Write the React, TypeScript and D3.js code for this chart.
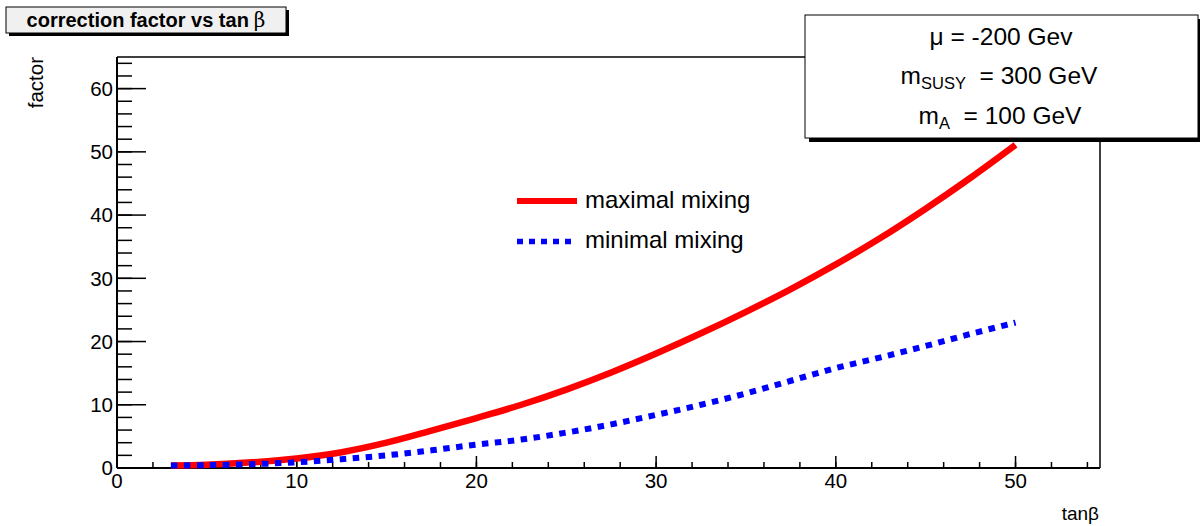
import React from "react";
import * as d3 from "d3";

// values
const tanBeta = [3, 5, 7.5, 10, 12.5, 15, 17.5, 20, 22.5, 25, 27.5, 30, 32.5, 35, 37.5, 40, 42.5, 45, 47.5, 50];
const maxMixing = [0.4, 0.5, 0.9, 1.5, 2.5, 4.0, 5.9, 7.9, 10.0, 12.4, 15.1, 18.1, 21.3, 24.7, 28.3, 32.2, 36.4, 41.0, 45.9, 51.1];
const minMixing = [0.4, 0.45, 0.6, 0.9, 1.4, 2.0, 2.8, 3.7, 4.5, 5.6, 6.9, 8.4, 10.0, 11.8, 13.8, 15.8, 17.5, 19.3, 21.2, 23.0];
const xMajor = [0, 10, 20, 30, 40, 50];
const yMajor = [0, 10, 20, 30, 40, 50, 60];

const W = 1200;
const H = 526;
const font = "'Liberation Sans', Arial, Helvetica, sans-serif";

const App = () => {
  const left = 117, right = 1100, top = 57, bottom = 468;
  const x = d3.scaleLinear().domain([0, 54.7]).range([left, right]);
  const y = d3.scaleLinear().domain([0, 65]).range([bottom, top]);

  const xMinor = d3.range(0, 54.7, 2);
  const yMinor = d3.range(0, 65.01, 2);

  const line = d3
    .line<number>()
    .x((d, i) => x(tanBeta[i]))
    .y(d => y(d))
    .curve(d3.curveCatmullRom);

  return (
    <svg width={W} height={H} style={{ position: "absolute", left: 0, top: 0 }} fontFamily={font}>
      <rect width={W} height={H} fill="white" />

      {/* title box */}
      <rect x={9} y={10} width={280} height={26} fill="black" />
      <rect x={6} y={7} width={280} height={26} fill="#f0f0f0" stroke="black" strokeWidth={1} />
      <text x={146} y={26.5} textAnchor="middle" fontSize={20} fontWeight="bold">
        correction factor vs tan
        <tspan fontFamily="'DejaVu Serif', 'Liberation Serif', serif" fontWeight="normal" dx={5}>β</tspan>
      </text>

      {/* frame */}
      <line x1={left} x2={right} y1={top} y2={top} stroke="black" strokeWidth={1.5} />
      <line x1={right} x2={right} y1={top} y2={bottom} stroke="black" strokeWidth={1.5} />
      <line x1={left} x2={right} y1={bottom} y2={bottom} stroke="black" strokeWidth={2} />
      <line x1={left} x2={left} y1={top} y2={bottom} stroke="black" strokeWidth={2} />

      {/* x ticks */}
      {xMinor.map(v => (
        <line key={"xm" + v} x1={x(v)} x2={x(v)} y1={bottom} y2={bottom - 6} stroke="black" strokeWidth={1.5} />
      ))}
      {xMajor.map(v => (
        <g key={"xM" + v}>
          <line x1={x(v)} x2={x(v)} y1={bottom} y2={bottom - 12} stroke="black" strokeWidth={1.5} />
          <text x={x(v)} y={488} textAnchor="middle" fontSize={20.5}>{v}</text>
        </g>
      ))}

      {/* y ticks */}
      {yMinor.map(v => (
        <line key={"ym" + v} x1={left} x2={left + 15} y1={y(v)} y2={y(v)} stroke="black" strokeWidth={1.5} />
      ))}
      {yMajor.map(v => (
        <g key={"yM" + v}>
          <line x1={left} x2={left + 29} y1={y(v)} y2={y(v)} stroke="black" strokeWidth={1.5} />
          <text x={113} y={y(v) + 7.3} textAnchor="end" fontSize={20.5}>{v}</text>
        </g>
      ))}

      {/* axis titles */}
      <text x={1099} y={520} textAnchor="end" fontSize={19}>tanβ</text>
      <text transform={`translate(43, ${top}) rotate(-90)`} textAnchor="end" fontSize={20.5}>factor</text>

      {/* curves */}
      <path d={line(maxMixing) || ""} fill="none" stroke="#ff0000" strokeWidth={6.5} />
      <path d={line(minMixing) || ""} fill="none" stroke="#0000ff" strokeWidth={6} strokeDasharray="6.5 6.5" />

      {/* legend */}
      <line x1={517} x2={577} y1={201} y2={201} stroke="#ff0000" strokeWidth={6} />
      <text x={585} y={208} fontSize={24}>maximal mixing</text>
      <line x1={517} x2={577} y1={241.5} y2={241.5} stroke="#0000ff" strokeWidth={5.5} strokeDasharray="6 6" />
      <text x={585} y={248} fontSize={24}>minimal mixing</text>

      {/* parameter box */}
      <rect x={809} y={19} width={393} height={123} fill="black" />
      <rect x={805} y={15} width={393} height={123} fill="white" stroke="black" strokeWidth={1} />
      <text x={1001} y={45} textAnchor="middle" fontSize={24.5}>μ = -200 Gev</text>
      <text x={999} y={84} textAnchor="middle" fontSize={24.5}>
        m<tspan fontSize={16.5} dy={5}>SUSY</tspan><tspan dy={-5}>{"\u00a0 = 300 GeV"}</tspan>
      </text>
      <text x={1000} y={124} textAnchor="middle" fontSize={24.5}>
        m<tspan fontSize={16.5} dy={5}>A</tspan><tspan dy={-5}>{"\u00a0 = 100 GeV"}</tspan>
      </text>
    </svg>
  );
};

export default App;
